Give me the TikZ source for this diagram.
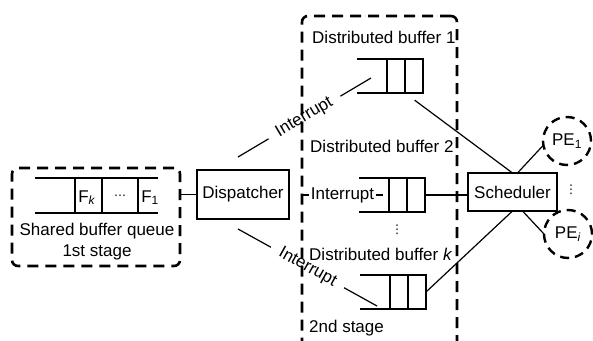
\documentclass[tikz,border=0pt]{standalone}
\usepackage{fontspec}
\setmainfont{Liberation Sans}
\newfontfamily\symfont{DejaVu Sans}
\usetikzlibrary{calc}
\def\bufq(#1)(#2,#3){%
	\node[cellbox] (#1) at (#2+48,#3+17) {};
	\draw[wire] (#1.north) -- (#1.south);
	\draw[wire] (#1.north west) -- ++(-30,0);
	\draw[wire] (#1.south west) -- ++(-30,0);}

\begin{document}
\begin{tikzpicture}[x=1pt,y=-1pt,
		every node/.style={font=\fontsize{17}{20}\selectfont},
		wire/.style={line width=1.2pt},
		stagebox/.style={draw, line width=2.6pt, dash pattern=on 11pt off 7pt, rounded corners=6pt, inner sep=0pt, outer sep=0pt},
		rbox/.style={draw, line width=1.2pt, inner sep=0pt, outer sep=0pt},
		cellbox/.style={rbox, minimum width=36pt, minimum height=34pt},
		pe/.style={draw, circle, line width=2.4pt, dash pattern=on 9pt off 6pt, minimum size=48pt, inner sep=0pt, outer sep=0pt},
		txt/.style={anchor=base west, inner sep=0pt},
		dots/.style={inner sep=0pt, font=\symfont\fontsize{12}{12}\selectfont},
		lbl/.style={fill=white, inner sep=1.5pt},
		slbl/.style={fill=white, sloped, inner xsep=10pt, inner ysep=1pt}]
		%%%%% START %%%%%
		\useasboundingbox (0,0) rectangle (593,340);
		\clip (0,0) rectangle (593,340);
		
		% 1st stage
		\node[stagebox, minimum width=168pt, minimum height=98pt] (stageone) at (96,217) {};
		\draw[wire] (35,178) -- (158,178);
		\draw[wire] (35,213) -- (158,213);
		\draw[wire] (75,178) -- (75,213);
		\draw[wire] (102,178) -- (102,213);
		\draw[wire] (138,178) -- (138,213);
		\node[anchor=base] (fk) at (87,202) {F\textsubscript{\textit{k}}};
		\node[dots] (fdots) at (120,197) {⋯};
		\node[anchor=base] (fone) at (150,202) {F\textsubscript{1}};
		\node[anchor=base, inner sep=0pt] (sbq) at (97,235) {Shared buffer queue};
		\node[anchor=base, inner sep=0pt] (stone) at (97,256) {1st stage};
		
		\node[rbox, minimum width=92pt, minimum height=49pt] (disp) at (243,194.5) {Dispatcher};
		\draw[wire] (stageone.east |- disp.west) -- (disp.west);
		
		% distributed buffers
		\bufq(qone)(357,59)
		\bufq(qtwo)(359,178)
		\bufq(qk)(360,275)
		
		\coordinate (upa) at ($(disp.north)+(-5,-13)$);
		\coordinate (upb) at ($(qone.west)+(-16,2)$);
		\coordinate (loa) at ($(disp.south)+(-5,10)$);
		\coordinate (lob) at ($(qk.west)+(-13,14)$);
		\draw[wire] (upa) -- node[slbl] {Interrupt} (upb);
		\draw[wire] (loa) -- node[slbl] {Interrupt} (lob);
		
		% 2nd stage
		\node[stagebox, minimum width=155pt, minimum height=350pt] (stagetwo) at (379.5,191) {};
		\node[txt] (dbone) at (312,43) {Distributed buffer 1};
		\node[txt] (dbtwo) at (310,152) {Distributed buffer 2};
		\node[txt] (dbk) at (309,260) {Distributed buffer \textit{k}};
		\node[txt] (sttwo) at (309,332) {2nd stage};
		\node[dots] (qdots) at (397,230) {⋮};
		
		\draw[wire] (stagetwo.west |- qtwo.west) -- node[lbl] {Interrupt} ($(qtwo.west)+(-6,0)$);
		
		% scheduler and PEs
		\node[rbox, minimum width=89pt, minimum height=38pt] (sched) at (512.5,192) {Scheduler};
		\node[pe] (peone) at (567,141) {PE\textsubscript{1}};
		\node[pe] (pei) at (568,234) {PE\textsubscript{\textit{i}}};
		\node[dots] (pedots) at (571,190) {⋮};
		
		\draw[wire, shorten <=12pt] (qone.south) -- (sched.north);
		\draw[wire] (qtwo.east) -- (qtwo.east -| sched.west);
		\draw[wire] (qk.east) -- (sched.south);
		\draw[wire] ($(sched.north)+(5,0)$) -- (peone.190);
		\draw[wire] ($(sched.south)+(10,0)$) -- (pei.west);
		
		%%%%% END %%%%%
\end{tikzpicture}
\end{document}
